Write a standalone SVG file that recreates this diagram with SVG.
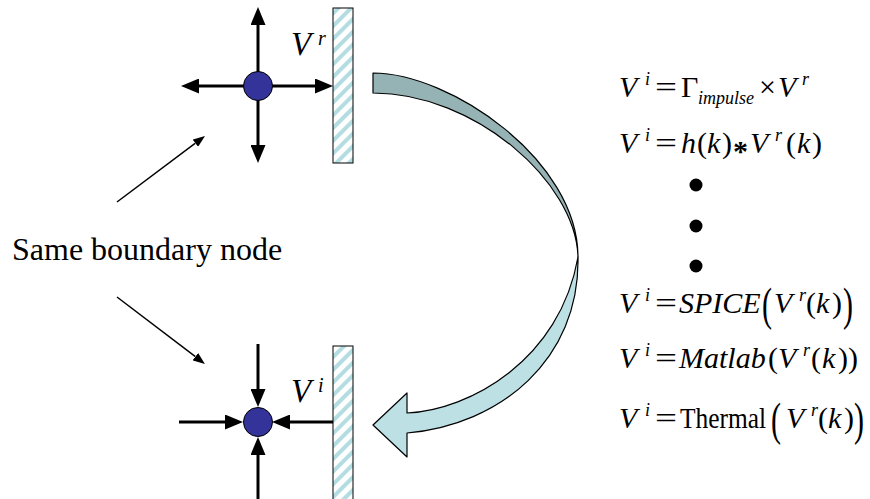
<svg xmlns="http://www.w3.org/2000/svg" width="870" height="499" viewBox="0 0 870 499" font-family="Liberation Serif, Times New Roman, serif">
<style>
.t{font-size:30px}
.it{font-style:italic}
.sup{font-size:18px;font-style:italic}
.sub{font-size:18px;font-style:italic}
.lbl{font-size:33px;font-style:italic}
.lsup{font-size:20px;font-style:italic}
.axis{stroke:#000;stroke-width:3;fill:none}
.ptr{stroke:#000;stroke-width:1.5;fill:none}
.node{fill:#333399;stroke:#000;stroke-width:1}
.wall{fill:url(#hatch);stroke:#000;stroke-width:1}
.band{stroke:#000;stroke-width:1.2;stroke-linejoin:round}
</style>
<defs>
<pattern id="hatch" patternUnits="userSpaceOnUse" width="9" height="9" patternTransform="rotate(45)">
<rect width="9" height="9" fill="#fff"/>
<rect x="0" y="0" width="4" height="9" fill="#B3DDE1"/>
</pattern>
<marker id="big" viewBox="0 -7.5 18 15" refX="0" refY="0" markerWidth="18" markerHeight="15" markerUnits="userSpaceOnUse" orient="auto">
<path d="M0,-7.5 L18,0 L0,7.5 z" fill="#000"/>
</marker>
<marker id="small" viewBox="0 -4.5 12 9" refX="0" refY="0" markerWidth="12" markerHeight="9" markerUnits="userSpaceOnUse" orient="auto">
<path d="M0,-4.5 L12,0 L0,4.5 z" fill="#000"/>
</marker>
</defs>

<g id="connectors">
<line class="axis" x1="258" y1="86" x2="258" y2="25" marker-end="url(#big)"/>
<line class="axis" x1="258" y1="86" x2="258" y2="145" marker-end="url(#big)"/>
<line class="axis" x1="258" y1="86" x2="199" y2="86" marker-end="url(#big)"/>
<line class="axis" x1="258" y1="86" x2="315" y2="86" marker-end="url(#big)"/>
<line class="axis" x1="258" y1="344" x2="258" y2="389" marker-end="url(#big)"/>
<line class="axis" x1="258" y1="499" x2="258" y2="455" marker-end="url(#big)"/>
<line class="axis" x1="179" y1="422" x2="225" y2="422" marker-end="url(#big)"/>
<line class="axis" x1="333" y1="422" x2="290" y2="422" marker-end="url(#big)"/>
<line class="ptr" x1="117" y1="202" x2="195.4" y2="143.2" marker-end="url(#small)"/>
<line class="ptr" x1="117" y1="297" x2="195.4" y2="356.7" marker-end="url(#small)"/>
<path id="curve-back" class="band" fill="#95B3B5" d="M373,73 C450,73 578,160 578,257 C576,182 475,93 373,93 Z"/>
<path id="curve-front" class="band" fill="#BCE0E4" d="M578,257 C580,360 500,425 407,433 L407,457 L373,425 L407,393 L407,413 C470,410 560,360 578,257 Z"/>
</g>

<g id="node-top">
<rect class="wall" x="333" y="8" width="20" height="155"/>
<circle class="node" cx="258" cy="86" r="14.5"/>
<text class="lbl" x="291" y="55">V</text>
<text class="lsup" x="318" y="45">r</text>
</g>

<g id="node-bottom">
<rect class="wall" x="333" y="346" width="20" height="160"/>
<circle class="node" cx="258" cy="422" r="14.5"/>
<text class="lbl" x="291" y="402">V</text>
<text class="lsup" x="318" y="392">i</text>
</g>

<g id="label-same">
<text class="t" x="12" y="260" style="font-size:32px">Same boundary node</text>
</g>

<g id="eq1">
<text class="t it" x="619" y="97">V</text>
<text class="sup" x="645" y="85">i</text>
<text class="t" x="655" y="97" textLength="22" lengthAdjust="spacingAndGlyphs">=</text>
<text class="t" x="681" y="97">Γ</text>
<text class="sub" x="698" y="104">impulse</text>
<text class="t" x="759" y="97">×</text>
<text class="t it" x="778" y="97">V</text>
<text class="sup" x="802" y="85">r</text>
</g>

<g id="eq2">
<text class="t it" x="619" y="153">V</text>
<text class="sup" x="645" y="141">i</text>
<text class="t" x="655" y="153" textLength="22" lengthAdjust="spacingAndGlyphs">=</text>
<text class="t it" x="681" y="153">h</text>
<text class="t" x="697" y="153">(</text>
<text class="t it" x="707" y="153">k</text>
<text class="t" x="722" y="153">)</text>
<text class="t" x="733" y="161" font-weight="bold">*</text>
<text class="t it" x="750" y="153">V</text>
<text class="sup" x="775" y="141">r</text>
<text class="t" x="786" y="153">(</text>
<text class="t it" x="797" y="153">k</text>
<text class="t" x="812" y="153">)</text>
</g>

<g id="dots">
<circle cx="696" cy="185" r="6.5" fill="#000"/>
<circle cx="696" cy="226" r="6.5" fill="#000"/>
<circle cx="696" cy="266" r="6.5" fill="#000"/>
</g>

<g id="eq3">
<text class="t it" x="619" y="313">V</text>
<text class="sup" x="645" y="301">i</text>
<text class="t" x="655" y="313" textLength="22" lengthAdjust="spacingAndGlyphs">=</text>
<text class="t it" x="679" y="313">SPICE</text>
<text class="t" transform="translate(762,319.5) scale(1,1.55)" x="0" y="0">(</text>
<text class="t it" x="774" y="313">V</text>
<text class="sup" x="799" y="301">r</text>
<text class="t" x="806" y="313">(</text>
<text class="t it" x="816" y="313">k</text>
<text class="t" x="832" y="313">)</text>
<text class="t" transform="translate(843,319.5) scale(1,1.55)" x="0" y="0">)</text>
</g>

<g id="eq4">
<text class="t it" x="619" y="368">V</text>
<text class="sup" x="645" y="356">i</text>
<text class="t" x="655" y="368" textLength="22" lengthAdjust="spacingAndGlyphs">=</text>
<text class="t it" x="679" y="368">Matlab</text>
<text class="t" x="768" y="368">(</text>
<text class="t it" x="778" y="368">V</text>
<text class="sup" x="803" y="356">r</text>
<text class="t" x="811" y="368">(</text>
<text class="t it" x="822" y="368">k</text>
<text class="t" x="838" y="368">))</text>
</g>

<g id="eq5">
<text class="t it" x="619" y="428">V</text>
<text class="sup" x="645" y="416">i</text>
<text class="t" x="655" y="428" textLength="22" lengthAdjust="spacingAndGlyphs">=</text>
<text class="t" x="680" y="428" textLength="86" lengthAdjust="spacingAndGlyphs">Thermal</text>
<text class="t" transform="translate(771,434.5) scale(1,1.55)" x="0" y="0">(</text>
<text class="t it" x="786" y="428">V</text>
<text class="sup" x="811" y="416">r</text>
<text class="t" x="818" y="428">(</text>
<text class="t it" x="828" y="428">k</text>
<text class="t" x="844" y="428">)</text>
<text class="t" transform="translate(854,434.5) scale(1,1.55)" x="0" y="0">)</text>
</g>
</svg>
